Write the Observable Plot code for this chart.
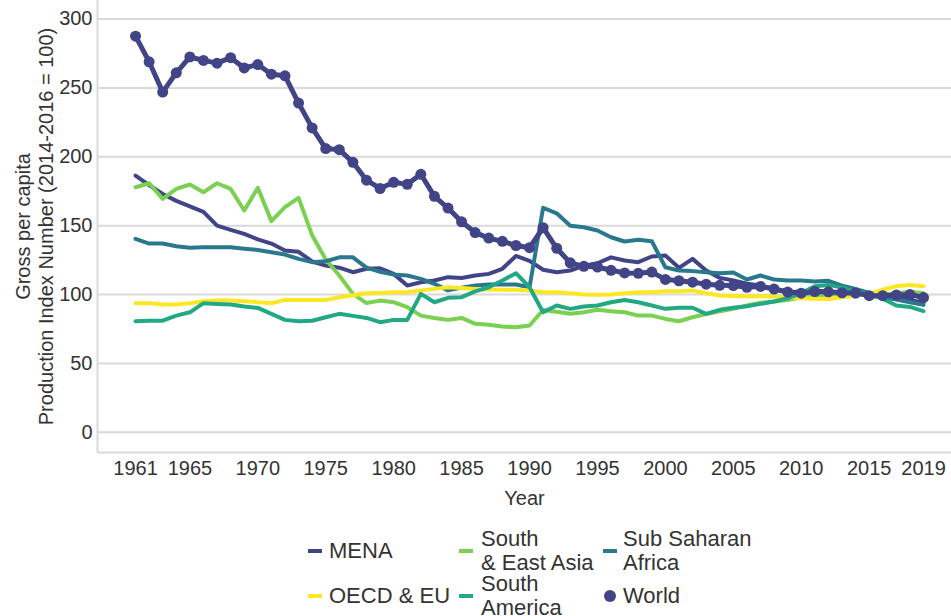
<!DOCTYPE html>
<html>
<head>
<meta charset="utf-8">
<script src="https://cdn.jsdelivr.net/npm/d3@7"></script>
<script src="https://cdn.jsdelivr.net/npm/@observablehq/plot@0.6"></script>
<style>
  html, body { margin: 0; padding: 0; background: #fff; }
  #wrap { position: relative; width: 951px; height: 616px; overflow: hidden; font-family: "Liberation Sans", Arial, sans-serif; color: #333; }
  #chart svg { display: block; }
  .lg-item { position: absolute; font-size: 22px; line-height: 24px; color: #333; white-space: nowrap; }
  .lg-sw { position: absolute; width: 14px; height: 4px; }
  .lg-dot { position: absolute; width: 12px; height: 12px; border-radius: 50%; }
</style>
</head>
<body>
<div id="wrap">
  <div id="chart"></div>
  <div id="legend"></div>
</div>
<script>
// ---- Data ----
const years = d3.range(1961, 2020);
const regions = ["MENA", "South & East Asia", "Sub Saharan Africa", "OECD & EU", "South America", "World"];
const colors = ["#414487", "#7ad151", "#2a788e", "#fde725", "#22a884", "#414487"];

const mena = [186.4,179.5,173,168,164,160,150,147,144,140,137,132,131,124,121,119.5,116.2,118.7,119,115,106.5,108.9,110.2,112.6,112,113.8,115,118.7,128,124.4,118,116.2,117.4,121,122.7,127,124.7,123.5,127.6,128.3,119.4,125.9,117.4,112.1,110.2,107.8,106.5,104,102,102,103,102,101,101,100,99,98,96,94];
const seAsia = [177.9,180.8,169.5,176.7,179.9,174.3,180.8,176.7,161,177.5,153.3,163.4,170.2,143,125.5,113.8,100.5,93.8,95.6,94.4,90.8,84.7,83,81.6,83,78.7,78,76.8,76.3,77.5,88.8,87.5,86,87.1,88.9,87.9,87.1,84.7,84.7,82.3,80.6,83.5,85.8,87.9,89.6,92,94,95,96,98,99,100,100,100,100,100,101,102,101];
const ssAfrica = [140.4,137,137,135,134,134.4,134.4,134.4,133.3,132.4,130.7,129,125.9,123.5,124.2,127,127,119.6,116.5,114.5,113.8,111.4,107.8,103,105,106.5,107.3,107.3,107.3,105.3,163,159,150,148.9,146.5,141.6,138.5,139.7,138.7,119.8,117.4,117,116.2,115.5,116,110.9,113.8,110.9,110.2,110.2,109.4,110,106.5,104,101.2,98,96.4,94.4,92.5];
const oecd = [93.7,93.7,92.7,92.7,93.7,95.1,95.6,95.6,95.1,94.4,93.7,96.1,96,96,96,98,99.5,100.9,101.2,101.7,101.7,102.9,104.1,105.3,104.8,104.1,103.6,103.4,103.4,102.9,101.7,101.7,100.9,100,99.8,100,100.9,101.7,101.7,102.4,102.4,102.9,100.9,99.3,99,98.8,98.8,98.6,98,97.3,97,96.8,98,99.3,100.5,103.5,106,107,106];
const southAmerica = [80.6,81,81,84.7,87.1,93.7,93.2,92.7,91.3,90.3,86,81.6,80.6,81,83.5,86,84.5,83,79.9,81.6,81.6,100.5,94.4,97.6,98.1,102.3,105.3,110.2,115.5,105.3,87.1,92,89.6,91.3,92,94.4,96.1,94.4,92,89.6,90.4,90.4,86,88.9,90.4,91.5,93.2,94.9,97.3,101,106,107,105,102,100,97,92,91,88];
const world = [287.6,269,247,261,272.5,270,268,272,264.5,267,260,258.8,239,221,206,205.2,196,183,177,181.5,180,187.3,171.3,162.8,152.8,145,141,138.6,135.6,134,148.5,133.6,123,120.5,120,117.6,115.7,115.4,116.3,111,110,109,107.5,106.7,106.5,105.2,105.9,104,101.8,101,102.2,102,101.3,101,99.2,99.2,99.7,100,97.8];

const yTicks = [0, 50, 100, 150, 200, 250, 300];
const xTicks = [1961, 1965, 1970, 1975, 1980, 1985, 1990, 1995, 2000, 2005, 2010, 2015, 2019];
const yTitle = "Gross per capita\nProduction Index Number (2014-2016 = 100)";
const xTitle = "Year";

// ---- Build table ----
const seriesList = [mena, seAsia, ssAfrica, oecd, southAmerica, world];
const rows = [];
seriesList.forEach((vals, i) => {
  vals.forEach((v, j) => rows.push({region: regions[i], year: years[j], value: v}));
});
const lineRows = rows.filter(d => d.region !== "World");
const worldRows = rows.filter(d => d.region === "World");

const xDomain = [1958.2, 2021.06];
const yDomain = [-14.7, 313.5];

const chart = Plot.plot({
  width: 951,
  height: 520,
  marginLeft: 97,
  marginRight: 0,
  marginTop: 0,
  marginBottom: 68,
  style: {fontFamily: "'Liberation Sans', Arial, sans-serif", fontSize: "20px", color: "#333", background: "white", overflow: "visible"},
  x: {type: "linear", domain: xDomain},
  y: {type: "linear", domain: yDomain},
  color: {domain: regions, range: colors},
  marks: [
    Plot.ruleY(yTicks, {stroke: "#d9d9d9", strokeWidth: 2}),
    Plot.ruleX([xDomain[0]], {stroke: "#d9d9d9", strokeWidth: 2}),
    Plot.ruleY([yDomain[0]], {stroke: "#d9d9d9", strokeWidth: 2}),
    Plot.axisY(yTicks, {tickSize: 0, tickPadding: 5, label: null, fontSize: 20}),
    Plot.axisX(xTicks, {tickSize: 0, tickPadding: 8, label: null, fontSize: 20, tickFormat: d => String(d)}),
    Plot.line(lineRows, {x: "year", y: "value", z: "region", stroke: "region", strokeWidth: 4, strokeLinejoin: "round", strokeLinecap: "round"}),
    Plot.line(worldRows, {x: "year", y: "value", stroke: "region", strokeWidth: 5, strokeLinejoin: "round"}),
    Plot.dot(worldRows, {x: "year", y: "value", fill: "region", r: 5.5}),
    Plot.text([xTitle], {text: d => d, frameAnchor: "bottom", dy: 46, lineAnchor: "middle", fontSize: 20, fill: "#333"}),
    Plot.text([yTitle], {text: d => d, frameAnchor: "left", rotate: -90, dx: -63.5, lineAnchor: "middle", textAnchor: "middle", lineHeight: 1.15, fontSize: 20, fill: "#333"})
  ]
});
document.getElementById("chart").appendChild(chart);

// ---- Legend (HTML, below the SVG) ----
const legendItems = [
  {i: 0, label: "MENA", sx: 308, tx: 329, cy: 551},
  {i: 1, label: "South<br>& East Asia", sx: 459, tx: 481, cy: 551},
  {i: 2, label: "Sub Saharan<br>Africa", sx: 603, tx: 623, cy: 551},
  {i: 3, label: "OECD &amp; EU", sx: 308, tx: 329, cy: 596},
  {i: 4, label: "South<br>America", sx: 459, tx: 481, cy: 596},
  {i: 5, label: "World", sx: 604, tx: 623, cy: 596, dot: true}
];
const lg = document.getElementById("legend");
legendItems.forEach(it => {
  const lines = it.label.split("<br>").length;
  const sw = document.createElement("div");
  if (it.dot) {
    sw.className = "lg-dot";
    sw.style.left = it.sx + "px";
    sw.style.top = (it.cy - 6) + "px";
  } else {
    sw.className = "lg-sw";
    sw.style.left = it.sx + "px";
    sw.style.top = (it.cy - 2) + "px";
  }
  sw.style.background = colors[it.i];
  lg.appendChild(sw);
  const tx = document.createElement("div");
  tx.className = "lg-item";
  tx.innerHTML = it.label;
  tx.style.left = it.tx + "px";
  tx.style.top = (it.cy - lines * 12) + "px";
  lg.appendChild(tx);
});
</script>
</body>
</html>
